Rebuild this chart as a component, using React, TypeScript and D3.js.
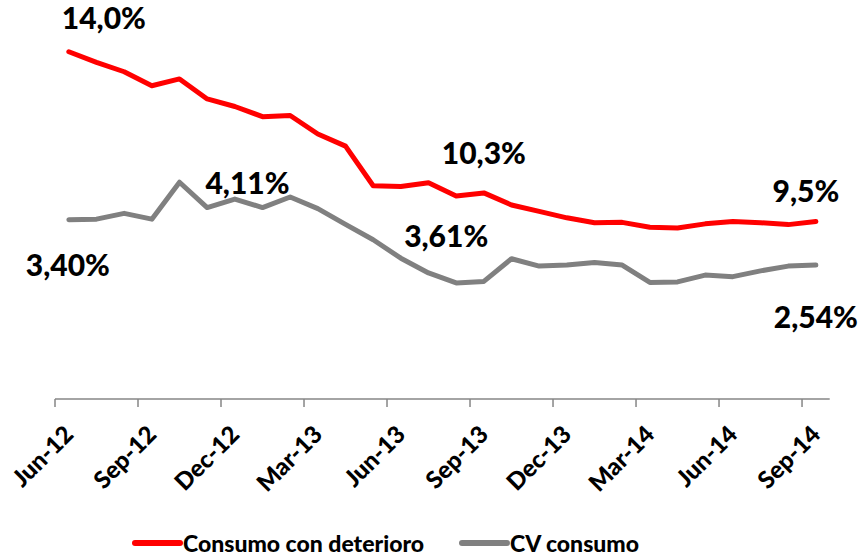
import { useEffect, useRef } from 'react';
import * as d3 from 'd3';

const months = [
  'Jun-12', 'Jul-12', 'Aug-12', 'Sep-12', 'Oct-12', 'Nov-12', 'Dec-12',
  'Jan-13', 'Feb-13', 'Mar-13', 'Apr-13', 'May-13', 'Jun-13', 'Jul-13',
  'Aug-13', 'Sep-13', 'Oct-13', 'Nov-13', 'Dec-13', 'Jan-14', 'Feb-14',
  'Mar-14', 'Apr-14', 'May-14', 'Jun-14', 'Jul-14', 'Aug-14', 'Sep-14'
];

// Consumo con deterioro (%)
const deterioro = [
  14.0, 13.72, 13.47, 13.1, 13.28, 12.75, 12.55, 12.28, 12.31, 11.82,
  11.5, 10.45, 10.43, 10.53, 10.18, 10.26, 9.94, 9.77, 9.6, 9.47,
  9.48, 9.35, 9.33, 9.44, 9.5, 9.47, 9.42, 9.5
];

// CV consumo (%)
const cvConsumo = [
  3.40, 3.41, 3.52, 3.41, 4.11, 3.63, 3.79, 3.63, 3.83, 3.61,
  3.31, 3.02, 2.67, 2.39, 2.2, 2.23, 2.66, 2.52, 2.54, 2.59,
  2.54, 2.21, 2.22, 2.35, 2.32, 2.43, 2.52, 2.54
];

const annotations = [
  { text: '14,0%', series: 'red', index: 0, dx: 35, dy: -23 },
  { text: '10,3%', series: 'red', index: 15, dx: 0, dy: -29 },
  { text: '9,5%', series: 'red', index: 27, dx: -10, dy: -20 },
  { text: '3,40%', series: 'gray', index: 0, dx: -1, dy: 56 },
  { text: '4,11%', series: 'gray', index: 4, dx: 68, dy: 12 },
  { text: '3,61%', series: 'gray', index: 14, dx: -10, dy: -36 },
  { text: '2,54%', series: 'gray', index: 27, dx: 0, dy: 63 }
];

const legendItems = [
  { label: 'Consumo con deterioro', color: '#ff0000' },
  { label: 'CV consumo', color: '#808080' }
];

export default function App() {
  const svgRef = useRef<SVGSVGElement>(null);

  useEffect(() => {
    const svg = d3.select(svgRef.current);
    svg.selectAll('*').remove();

    const width = 866;
    const height = 557;
    const left = 55;
    const right = 829.7;
    const bottom = 399;
    const top = 14;
    const font = 'Lato, "Open Sans", sans-serif';

    svg.attr('width', width).attr('height', height);

    const x = d3.scaleBand<number>()
      .domain(d3.range(months.length))
      .range([left, right])
      .padding(0);
    const cx = (i: number) => (x(i) as number) + x.bandwidth() / 2;

    const yRed = d3.scaleLinear().domain([4.8, 15]).range([bottom, top]);
    const yGray = d3.scaleLinear().domain([0, 7.3]).range([bottom, top]);

    // axis
    const axis = svg.append('g');
    axis.append('line')
      .attr('x1', left).attr('x2', right)
      .attr('y1', bottom).attr('y2', bottom)
      .attr('stroke', '#868686')
      .attr('stroke-width', 1.5);

    months.forEach((m, i) => {
      if (i % 3 !== 0) return;
      const tx = x(i) as number;
      axis.append('line')
        .attr('x1', tx).attr('x2', tx)
        .attr('y1', bottom).attr('y2', bottom + 8)
        .attr('stroke', '#868686')
        .attr('stroke-width', 1.5);
      axis.append('text')
        .attr('transform', `translate(${cx(i) + 6},${bottom + 37}) rotate(-45)`)
        .attr('text-anchor', 'end')
        .style('font-family', font)
        .style('font-weight', 900)
        .style('font-size', '24px')
        .attr('fill', '#000')
        .text(m);
    });

    const lineRed = d3.line<number>().x((_, i) => cx(i)).y(d => yRed(d));
    const lineGray = d3.line<number>().x((_, i) => cx(i)).y(d => yGray(d));

    svg.append('path')
      .attr('d', lineGray(cvConsumo))
      .attr('fill', 'none')
      .attr('stroke', '#808080')
      .attr('stroke-width', 5)
      .attr('stroke-linejoin', 'round')
      .attr('stroke-linecap', 'round');

    svg.append('path')
      .attr('d', lineRed(deterioro))
      .attr('fill', 'none')
      .attr('stroke', '#ff0000')
      .attr('stroke-width', 5)
      .attr('stroke-linejoin', 'round')
      .attr('stroke-linecap', 'round');

    annotations.forEach(a => {
      const v = a.series === 'red' ? deterioro[a.index] : cvConsumo[a.index];
      const py = a.series === 'red' ? yRed(v) : yGray(v);
      svg.append('text')
        .attr('x', cx(a.index) + a.dx)
        .attr('y', py + a.dy)
        .attr('text-anchor', 'middle')
        .style('font-family', font)
        .style('font-weight', 900)
        .style('font-size', '30px')
        .attr('fill', '#000')
        .text(a.text);
    });

    // legend
    const legend = svg.append('g');
    const legendX = [135, 462];
    legendItems.forEach((d, i) => {
      legend.append('line')
        .attr('x1', legendX[i]).attr('x2', legendX[i] + 45)
        .attr('y1', 543).attr('y2', 543)
        .attr('stroke', d.color)
        .attr('stroke-width', 6)
        .attr('stroke-linecap', 'round');
      legend.append('text')
        .attr('x', legendX[i] + 48)
        .attr('y', 552)
        .style('font-family', font)
        .style('font-weight', 900)
        .style('font-size', '23px')
        .attr('fill', '#000')
        .text(d.label);
    });
  }, []);

  return (
    <svg
      ref={svgRef}
      style={{ position: 'absolute', left: 0, top: 0, display: 'block', background: '#fff' }}
    />
  );
}
